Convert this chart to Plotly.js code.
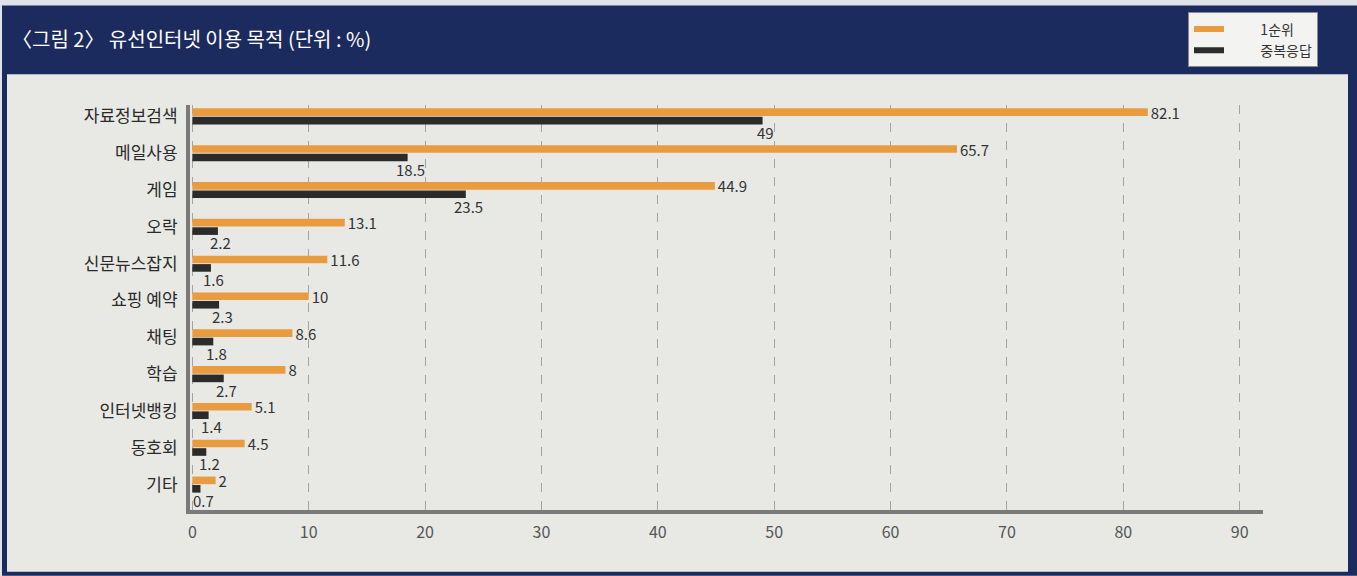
<!DOCTYPE html>
<html>
<head>
<meta charset="utf-8">
<script src="https://cdn.plot.ly/plotly-3.0.1.min.js"></script>
<style>
html,body{margin:0;padding:0;background:#dfe2e8;}
#chart{width:1357px;height:576px;}
</style>
</head>
<body>
<div id="chart"></div>
<script>
const categories = ['자료정보검색','메일사용','게임','오락','신문뉴스잡지','쇼핑 예약','채팅','학습','인터넷뱅킹','동호회','기타'];
const firstRank = [82.1, 65.7, 44.9, 13.1, 11.6, 10, 8.6, 8, 5.1, 4.5, 2];
const multiResp = [49, 18.5, 23.5, 2.2, 1.6, 2.3, 1.8, 2.7, 1.4, 1.2, 0.7];
const seriesNames = ['1순위', '중복응답'];
const xTicks = [0,10,20,30,40,50,60,70,80,90];

const W = 1357, H = 576;
const M = {l:190, r:94, t:103, b:66};
const PW = W - M.l - M.r, PH = H - M.t - M.b;
const px = p => (p - M.l) / PW;
const py = p => (H - M.b - p) / PH;

const ORANGE = '#e89b3f', DARK = '#2b2b2b', NAVY = '#1c2b5e', BG = '#e8e9e5';
const FONT = '"Noto Sans CJK KR", "Noto Sans", sans-serif';
const PAD = '&nbsp;'.repeat(10);

const traces = [
  {type:'bar', orientation:'h', name:seriesNames[0], y:categories, x:firstRank,
   marker:{color:ORANGE}, text:firstRank.map(String), textposition:'outside', constraintext:'none',
   textfont:{color:'#333', size:15, family:FONT}, cliponaxis:false, showlegend:false, hoverinfo:'x+name'},
  {type:'bar', orientation:'h', name:seriesNames[1], y:categories, x:multiResp,
   marker:{color:DARK}, showlegend:false, hoverinfo:'x+name'},
  {type:'scatter', mode:'lines', name:PAD + seriesNames[0], x:[null], y:[null],
   line:{color:ORANGE, width:6}, showlegend:true, hoverinfo:'skip'},
  {type:'scatter', mode:'lines', name:PAD + seriesNames[1], x:[null], y:[null],
   line:{color:DARK, width:6}, showlegend:true, hoverinfo:'skip'}
];

const annotations = multiResp.map((v,i) => ({
  x: v, y: categories[i], xref:'x', yref:'y', text: String(v), showarrow:false,
  xanchor:'center', yanchor:'middle', xshift:3, yshift:-16,
  font:{color:'#333', size:15, family:FONT}
}));

const layout = {
  width:W, height:H,
  margin:M,
  paper_bgcolor:'#dfe2e8',
  plot_bgcolor:'rgba(0,0,0,0)',
  font:{family:FONT, color:'#333'},
  title:{text:'〈그림 2〉 유선인터넷 이용 목적 (단위 : %)', xref:'container', yref:'container',
         x:12/W, xanchor:'left', y:1-40/H, yanchor:'middle',
         font:{color:'#ffffff', size:20, family:FONT}},
  barmode:'group', bargap:0.54, bargroupgap:0.1,
  xaxis:{range:[-0.2, 92], tickvals:xTicks, showgrid:true, gridcolor:'#a3a3a3', gridwidth:1,
         griddash:'dash', zeroline:false, showline:true, linecolor:'#7a7a7a', linewidth:4,
         ticks:'outside', ticklen:5, tickcolor:'rgba(0,0,0,0)',
         tickfont:{size:16, color:'#555', family:FONT}, fixedrange:true},
  yaxis:{type:'category', categoryarray:categories, range:[10.69, -0.31], showgrid:false,
         zeroline:false, showline:true, linecolor:'#7a7a7a', linewidth:4,
         ticks:'outside', ticklen:5, tickcolor:'rgba(0,0,0,0)',
         tickfont:{size:17, color:'#2a2a2a', family:FONT}, fixedrange:true},
  legend:{x:px(1188), y:py(10), xanchor:'left', yanchor:'top', bgcolor:'#f3f3f1',
          bordercolor:'#8a8a8a', borderwidth:1, font:{size:14, color:'#333', family:FONT},
          itemwidth:30, tracegroupgap:0},
  shapes:[
    {type:'rect', xref:'paper', yref:'paper', x0:px(2), x1:px(1357), y0:py(3), y1:py(576),
     fillcolor:NAVY, line:{width:0}, layer:'below'},
    {type:'rect', xref:'paper', yref:'paper', x0:px(7), x1:px(1348), y0:py(72), y1:py(572),
     fillcolor:BG, line:{width:0}, layer:'below'}
  ],
  annotations: annotations
};

Plotly.newPlot('chart', traces, layout, {displayModeBar:false, staticPlot:true});
</script>
</body>
</html>
